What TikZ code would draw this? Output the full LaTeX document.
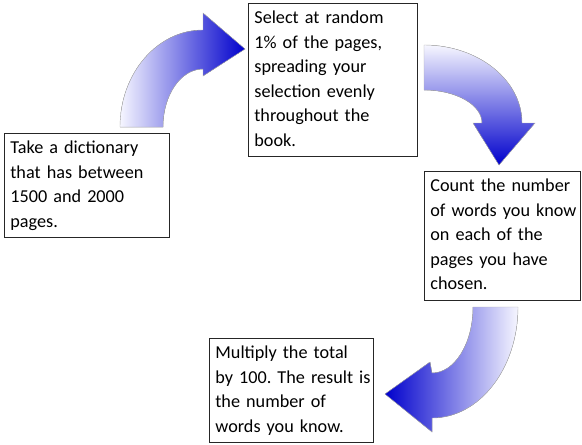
\documentclass[tikz,border=0pt]{standalone}
\usepackage{fontspec}
\setmainfont{Carlito}
\usepackage{xcolor}
\definecolor{setaescura}{RGB}{0,0,204}
\definecolor{setaclara}{RGB}{246,246,255}
\frenchspacing

\begin{document}
\begin{tikzpicture}[x=1pt, y=-1pt,
    caixa/.style={draw=black!85, line width=0.8pt, anchor=north west, align=left,
      inner xsep=6pt, inner ysep=3pt, font=\fontsize{18.2}{24.5}\selectfont,
      execute at begin node=\strut, execute at end node=\strut},
    seta/.style={draw=black!30, line width=0.4pt}]
    \useasboundingbox (0,0) rectangle (582,445);

    % Caixas
    \node[caixa, text width=153pt] (dicionario) at (4,133)
      {Take a dictionary\\that has between\\1500 and 2000\\pages.};
    \node[caixa, text width=157pt] (selecao) at (248,3)
      {Select at random\\1\% of the pages,\\spreading your\\selection evenly\\throughout the\\book.};
    \node[caixa, text width=144pt] (contagem) at (424,171)
      {Count the number\\\mbox{of words you know}\\on each of the\\pages you have\\chosen.};
    \node[caixa, text width=152pt] (resultado) at (209,338)
      {Multiply the total\\\mbox{by 100. The result is}\\the number of\\words you know.};

    % Setas
    \filldraw[seta, left color=setaclara, right color=setaescura]
      (120,127) .. controls (120,73.4) and (157.2,30) .. (203,30)
      -- (203,13) -- (245,49) -- (203,76) -- (203,69)
      .. controls (180.9,69) and (163,95) .. (163,127) -- cycle;
    \filldraw[seta, top color=setaclara, bottom color=setaescura]
      (424,45) .. controls (478.1,45) and (522,79.9) .. (522,123)
      -- (535,123) -- (499,165) -- (473,123) -- (482,123)
      .. controls (482,104.8) and (456,90) .. (424,90) -- cycle;
    \filldraw[seta, left color=setaescura, right color=setaclara]
      (518,307) .. controls (518,368.3) and (479.5,418) .. (432,418)
      -- (432,432) -- (385,394) -- (430,362) -- (432,373)
      .. controls (454.6,373) and (473,343.5) .. (473,307) -- cycle;
\end{tikzpicture}
\end{document}
